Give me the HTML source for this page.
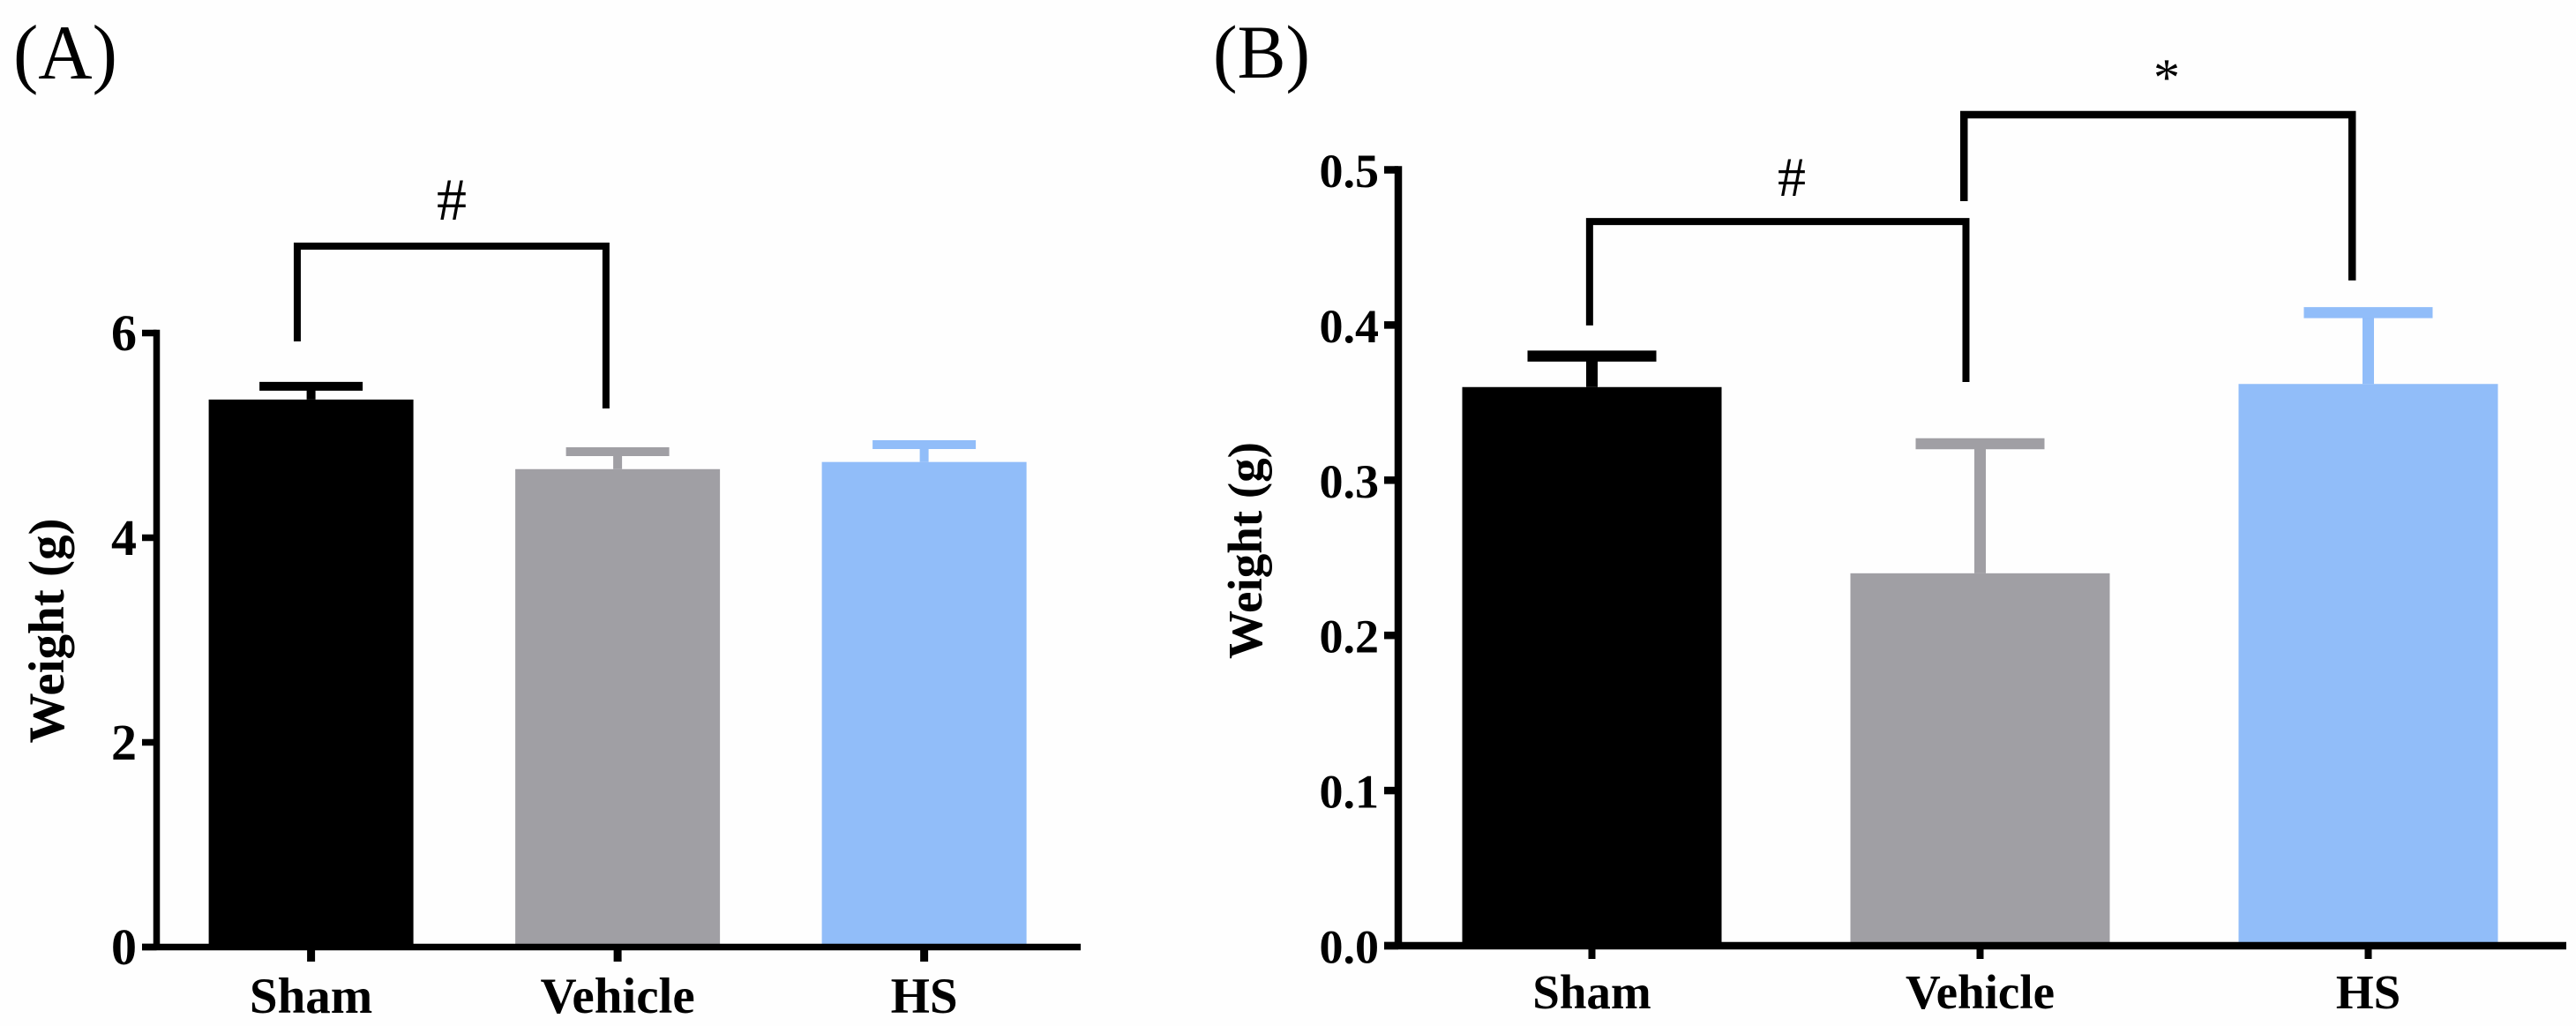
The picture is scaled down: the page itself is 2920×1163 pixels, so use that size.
<!DOCTYPE html>
<html lang="en">
<head>
<meta charset="utf-8">
<title>Weight bar charts</title>
<style>
html,body{margin:0;padding:0;background:#fefefe;}
svg{display:block;}
text{font-family:"Liberation Serif","Times New Roman",serif;fill:#000;}
.bold{font-weight:700;}
</style>
</head>
<body>
<svg id="figure" xmlns="http://www.w3.org/2000/svg" width="2920" height="1163" viewBox="0 0 2920 1163">
  <rect x="0" y="0" width="2920" height="1163" fill="#fefefe"/>
  <text x="15" y="89" font-size="88" textLength="118" lengthAdjust="spacingAndGlyphs">(A)</text>
  <text x="1375" y="88" font-size="86" textLength="110" lengthAdjust="spacingAndGlyphs">(B)</text>
</svg>
<script>
// ---- Chart values ----
const categories = ['Sham', 'Vehicle', 'HS'];
const barColors = ['#000000', '#a09fa4', '#91bdf9'];

const meansA = [5.35, 4.67, 4.74];
const errorTopsA = [5.48, 4.84, 4.91];
const tickLabelsA = ['0', '2', '4', '6'];
const tickValuesA = [0, 2, 4, 6];

const meansB = [0.36, 0.24, 0.362];
const errorTopsB = [0.38, 0.3235, 0.408];
const tickLabelsB = ['0.0', '0.1', '0.2', '0.3', '0.4', '0.5'];
const tickValuesB = [0, 0.1, 0.2, 0.3, 0.4, 0.5];

// Significance brackets: start category, end category, top value, left-leg end value, right-leg end value
const bracketA1 = [-0.045, 0.962, 6.849, 5.918, 5.263];
const bracketB1 = [-0.006, 0.9636, 0.4667, 0.3997, 0.3633];
const bracketB2 = [0.9585, 1.9585, 0.5355, 0.4798, 0.4287];

const svg = document.getElementById('figure');
const NS = 'http://www.w3.org/2000/svg';

function make(tag, parent, props) {
  const el = document.createElementNS(NS, tag);
  for (const k in props) el.setAttribute(k, props[k]);
  parent.appendChild(el);
  return el;
}

function drawPanel(p) {
  const g = make('g', svg, {});
  
  

  // bars and error bars
  categories.forEach(function (cat, i) {
    const key = cat.toLowerCase();
    const cx = p.x(i);
    const color = barColors[i];

    const bar = make('rect', g, {
      x: cx - p.barW / 2, y: p.y(p.means[i]),
      width: p.barW, height: p.y(0) - p.y(p.means[i]), fill: color
    });
    
    

    const stem = make('line', g, {
      x1: cx, x2: cx, y1: p.y(p.means[i]), y2: p.y(p.tops[i]),
      stroke: color, 'stroke-width': p.stemW
    });
    
    

    const cap = make('line', g, {
      x1: cx - p.capW / 2, x2: cx + p.capW / 2, y1: p.y(p.tops[i]), y2: p.y(p.tops[i]),
      stroke: color, 'stroke-width': p.capH
    });
    
    
  });

  // y axis
  const topTick = p.y(p.tickValues[p.tickValues.length - 1]);
  const yAxis = make('line', g, {
    x1: p.axisX, x2: p.axisX, y1: topTick - p.axisW / 2, y2: p.y(0),
    stroke: '#000', 'stroke-width': p.axisW
  });
  
  

  p.tickValues.forEach(function (v, i) {
    const tick = make('line', g, {
      x1: p.tickLeft, x2: p.axisX, y1: p.y(v), y2: p.y(v),
      stroke: '#000', 'stroke-width': p.axisW
    });
    
    

    const label = make('text', g, {
      x: p.tickTextX, y: p.y(v) + 19.5, 'font-size': p.tickFont, 'text-anchor': 'end', 'class': 'bold'
    });
    label.textContent = p.tickLabels[i];
    
    
  });

  // x axis
  const xAxis = make('line', g, {
    x1: p.tickLeft, x2: p.axisRight, y1: p.y(0), y2: p.y(0),
    stroke: '#000', 'stroke-width': p.axisW
  });
  
  

  categories.forEach(function (cat, i) {
    const key = cat.toLowerCase();
    const tick = make('line', g, {
      x1: p.x(i), x2: p.x(i), y1: p.y(0), y2: p.tickBottom,
      stroke: '#000', 'stroke-width': p.xTickW
    });
    
    

    const label = make('text', g, {
      x: p.x(i), y: p.xLabelY, 'font-size': p.xFont, 'text-anchor': 'middle', 'class': 'bold'
    });
    label.textContent = cat;
    
    
  });

  // y-axis title
  const title = make('text', g, {
    x: 0, y: 0, 'font-size': p.titleFont, 'text-anchor': 'middle', 'class': 'bold',
    transform: 'translate(' + p.titleX + ' ' + p.titleY + ') rotate(-90)'
  });
  title.textContent = 'Weight (g)';
  
  

  // significance brackets
  p.brackets.forEach(function (b, i) {
    const d = b.values;
    const path = make('path', g, {
      d: 'M' + p.x(d[0]) + ' ' + p.y(d[3]) + ' V' + p.y(d[2]) + ' H' + p.x(d[1]) + ' V' + p.y(d[4]),
      fill: 'none', stroke: '#000', 'stroke-width': b.width, 'stroke-linejoin': 'miter'
    });
    
    

    const mark = make('text', g, {
      x: b.markX, y: b.markY, 'font-size': b.markFont, 'text-anchor': 'middle'
    });
    mark.textContent = b.mark;
    
    
  });
}

drawPanel({
  id: 'panel-a',
  x: function (i) { return 352.6 + 347.5 * i; },
  y: function (v) { return 1073.5 - 116 * v; },
  means: meansA, tops: errorTopsA, tickValues: tickValuesA, tickLabels: tickLabelsA,
  barW: 232, stemW: 10, capW: 117, capH: 10,
  axisX: 177.5, axisW: 7.5, axisRight: 1225, tickLeft: 161, tickBottom: 1090, xTickW: 9,
  tickTextX: 155, tickFont: 58, xFont: 57, xLabelY: 1148,
  titleFont: 57, titleX: 72, titleY: 715,
  brackets: [
    { values: bracketA1, width: 8, mark: '#', markX: 512, markY: 249, markFont: 68 }
  ]
});

drawPanel({
  id: 'panel-b',
  x: function (i) { return 1804.5 + 440 * i; },
  y: function (v) { return 1072 - 1759 * v; },
  means: meansB, tops: errorTopsB, tickValues: tickValuesB, tickLabels: tickLabelsB,
  barW: 294, stemW: 13, capW: 146, capH: 12.5,
  axisX: 1585, axisW: 8.5, axisRight: 2909, tickLeft: 1569, tickBottom: 1087, xTickW: 8,
  tickTextX: 1563, tickFont: 54, xFont: 55, xLabelY: 1143,
  titleFont: 55, titleX: 1430, titleY: 624,
  brackets: [
    { values: bracketB1, width: 8, mark: '#', markX: 2031, markY: 222, markFont: 64 },
    { values: bracketB2, width: 8.5, mark: '*', markX: 2456, markY: 108, markFont: 60 }
  ]
});
</script>
</body>
</html>
